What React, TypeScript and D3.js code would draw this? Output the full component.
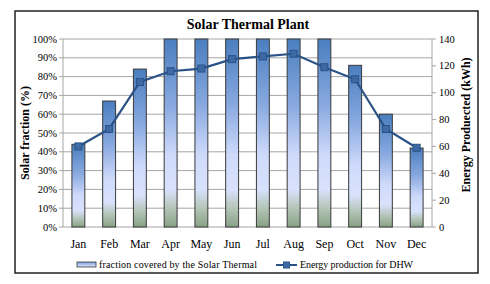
import React from "react";
import * as d3 from "d3";

const months = ["Jan", "Feb", "Mar", "Apr", "May", "Jun", "Jul", "Aug", "Sep", "Oct", "Nov", "Dec"];
// solar fraction, %
const fraction = [44, 67, 84, 100, 100, 100, 100, 100, 100, 86, 60, 42];
// energy produced for DHW, kWh
const energy = [60, 73, 108, 116, 118, 125, 127, 129, 119, 110, 73, 59];
const leftTicks = d3.range(0, 101, 10);
const rightTicks = d3.range(0, 141, 20);

const W = 490, H = 284;
const plot = { left: 63, right: 432, top: 39, bottom: 227 };
const serif = "'Liberation Serif', 'Times New Roman', serif";

export default function App() {
  const x = d3.scaleBand().domain(months).range([plot.left, plot.right]).paddingInner(0.58).paddingOuter(0.29);
  const yL = d3.scaleLinear().domain([0, 100]).range([plot.bottom, plot.top]);
  const yR = d3.scaleLinear().domain([0, 140]).range([plot.bottom, plot.top]);
  const line = d3.line<number>()
    .x((_, i) => x(months[i])! + x.bandwidth() / 2)
    .y(d => yR(d));

  return (
    <svg width={W} height={H} style={{ position: "absolute", left: 0, top: 0, background: "#fff" }}>
      <defs>
        <linearGradient id="barGrad" x1="0" y1="0" x2="0" y2="1">
          <stop offset="0%" stopColor="#4a7ebf" />
          <stop offset="35%" stopColor="#88a9e0" />
          <stop offset="62%" stopColor="#cfdafb" />
          <stop offset="80%" stopColor="#d8e2fd" />
          <stop offset="90%" stopColor="#b4c5b8" />
          <stop offset="100%" stopColor="#88a185" />
        </linearGradient>
        <linearGradient id="legGrad" x1="0" y1="0" x2="0" y2="1">
          <stop offset="0%" stopColor="#7ea0dc" />
          <stop offset="100%" stopColor="#dbe4fc" />
        </linearGradient>
      </defs>
      <rect x={15} y={11} width={463} height={262} fill="#fff" stroke="#222" strokeWidth={1.5} />
      <text x={248} y={29} textAnchor="middle" fontFamily={serif} fontWeight="bold" fontSize={14}>
        Solar Thermal Plant
      </text>

      {leftTicks.map(t => (
        <g key={t}>
          <line x1={plot.left} x2={plot.right} y1={yL(t)} y2={yL(t)} stroke="#a6a6a6" strokeWidth={1} />
          <line x1={plot.left - 4} x2={plot.left} y1={yL(t)} y2={yL(t)} stroke="#a6a6a6" />
          <text x={plot.left - 6} y={yL(t) + 3.5} textAnchor="end" fontFamily={serif} fontSize={10.5}>{t}%</text>
        </g>
      ))}
      <line x1={plot.left} x2={plot.left} y1={plot.top} y2={plot.bottom} stroke="#a6a6a6" />
      <line x1={plot.right} x2={plot.right} y1={plot.top} y2={plot.bottom} stroke="#a6a6a6" />
      {rightTicks.map(t => (
        <g key={t}>
          <line x1={plot.right} x2={plot.right + 4} y1={yR(t)} y2={yR(t)} stroke="#a6a6a6" />
          <text x={plot.right + 7} y={yR(t) + 3.5} fontFamily={serif} fontSize={10.5}>{t}</text>
        </g>
      ))}

      {fraction.map((v, i) => (
        <rect key={months[i]} x={x(months[i])} y={yL(v)} width={x.bandwidth()} height={yL(0) - yL(v)}
          fill="url(#barGrad)" stroke="#3a3a3a" strokeWidth={1} />
      ))}

      <path d={line(energy)!} fill="none" stroke="#2b5286" strokeWidth={2.2} />
      {energy.map((v, i) => (
        <rect key={"m" + i} x={x(months[i])! + x.bandwidth() / 2 - 3.5} y={yR(v) - 3.5} width={7} height={7}
          fill="#3d6aa5" stroke="#2b5286" strokeWidth={1} />
      ))}

      {months.map(m => (
        <text key={m} x={x(m)! + x.bandwidth() / 2} y={248} textAnchor="middle" fontFamily={serif} fontSize={12}>{m}</text>
      ))}

      <text transform={`translate(29,${(plot.top + plot.bottom) / 2}) rotate(-90)`} textAnchor="middle"
        fontFamily={serif} fontWeight="bold" fontSize={12}>Solar fraction (%)</text>
      <text transform={`translate(470,${(plot.top + plot.bottom) / 2 - 8}) rotate(-90)`} textAnchor="middle"
        fontFamily={serif} fontWeight="bold" fontSize={12}>Energy Produected (kWh)</text>

      <rect x={77} y={262} width={19} height={5} fill="url(#legGrad)" stroke="#3a3a3a" strokeWidth={0.8} />
      <text x={99} y={268} fontFamily={serif} fontSize={10} textLength={158} lengthAdjust="spacing">fraction covered by the Solar Thermal</text>
      <line x1={276} x2={297} y1={265} y2={265} stroke="#2b5286" strokeWidth={2} />
      <rect x={283.5} y={262} width={6} height={6} fill="#3d6aa5" stroke="#2b5286" />
      <text x={300} y={268} fontFamily={serif} fontSize={10} textLength={113} lengthAdjust="spacing">Energy production for DHW</text>
    </svg>
  );
}
